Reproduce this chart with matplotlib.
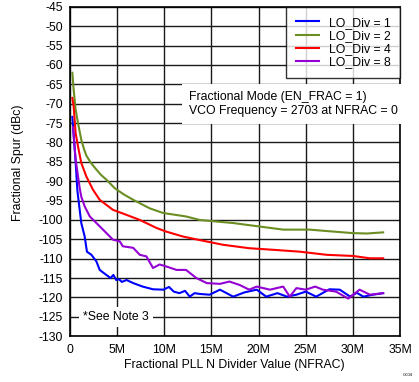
import matplotlib.pyplot as plt
import numpy as np

plt.rcParams['font.family'] = ['Liberation Sans', 'DejaVu Sans']
plt.rcParams['axes.unicode_minus'] = False

# NFRAC in millions, spur in dBc
div1_x = [0.25, 0.45, 0.6, 0.78, 1.03, 1.2, 1.56, 1.8, 2.27, 2.8, 3.15, 3.86, 4.3, 4.6, 4.9, 5.2, 5.5,
          6.0, 6.7, 7.7, 8.8, 9.9, 10.5, 11.0, 11.6, 12.2, 12.7, 13.2, 13.75, 14.8, 15.9, 17.3, 18.5,
          19.8, 20.8, 22.0, 23.0, 24.0, 25.0, 26.1, 27.5, 28.6, 29.7, 30.4, 31.1, 32.1, 33.2]
div1_y = [-73.4, -80, -85, -92.3, -97.4, -100.8, -104.3, -108.2, -109, -110.7, -112.9, -114.2, -115, -114.2, -115.5, -115.3, -116,
          -115.5, -116.3, -117.2, -117.9, -118, -117.3, -118.5, -118.9, -118.3, -119.8, -118.9, -119.1, -119.3, -118, -119.8, -118.7,
          -118, -119.8, -118.9, -119.8, -119.3, -118.5, -119.8, -117.9, -118, -119.8, -118.8, -119.8, -119.3, -118.9]

div2_x = [0.25, 0.39, 0.6, 0.85, 1.2, 1.5, 1.74, 2.2, 2.8, 3.3, 3.86, 4.74, 5.7, 6.7, 8.45, 9.86, 12.3, 13.75,
          15.5, 17.3, 20.1, 22.6, 25.4, 27.9, 30.0, 31.5, 33.2]
div2_y = [-62, -66.4, -71.5, -75, -79.3, -81.8, -83.4, -85.2, -87, -88.4, -89.6, -91.8, -93.4, -94.8, -97, -98.2, -99.1, -100,
          -100.4, -100.8, -101.7, -102.5, -102.5, -103, -103.4, -103.5, -103.2]

div4_x = [0.25, 0.39, 0.6, 0.85, 1.2, 1.74, 2.44, 3.15, 4.56, 6.0, 7.4, 9.2, 10.2, 12.0, 13.75,
          16.2, 19.0, 21.5, 24.4, 27.2, 30.0, 31.8, 33.2]
div4_y = [-68.5, -70.7, -77.6, -81, -85.3, -88.8, -92.2, -94.8, -97.4, -98.7, -100, -102.1, -103, -104.3, -105.2,
          -106.4, -107.3, -107.7, -108.2, -109, -109.3, -109.9, -109.9]

div8_x = [0.32, 0.6, 1.03, 1.2, 1.56, 2.1, 2.8, 3.5, 4.56, 5.27, 5.6, 6.7, 7.4, 8.1, 8.8, 9.5, 10.2,
          11.3, 12.3, 13.4, 14.5, 15.9, 16.9, 18.0, 19.0, 19.8, 21.2, 22.6, 23.3, 24.0, 25.0, 26.0,
          26.8, 28.2, 29.5, 30.7, 31.8, 33.2]
div8_y = [-76, -84.4, -91.8, -94, -96.5, -99.1, -100.8, -102.5, -105.1, -105.5, -106.8, -107.2, -109, -109.4, -112.4, -111.5, -112,
          -112.9, -112.9, -115, -116.3, -116.5, -115.9, -116.8, -118, -117.2, -118, -117.2, -119.8, -117.6, -118, -117.2,
          -118, -118.5, -120.3, -118, -119.3, -118.9]

labels = ['LO_Div = 1', 'LO_Div = 2', 'LO_Div = 4', 'LO_Div = 8']
colors = ['#0000ff', '#6b8e23', '#ff0000', '#9400d3']
x_ticks = [0, 5, 10, 15, 20, 25, 30, 35]
y_ticks = list(range(-130, -44, 5))

fs = 8.8
fig = plt.figure(figsize=(4.19, 3.82), dpi=100)
ax = fig.add_axes([0.167, 0.120, 0.788, 0.862])

series = [(div1_x, div1_y), (div2_x, div2_y), (div4_x, div4_y), (div8_x, div8_y)]
for (xs, ys), lab, c in zip(series, labels, colors):
    ax.plot(xs, ys, color=c, lw=1.5, label=lab, zorder=3)

ax.set_xlim(0, 35)
ax.set_ylim(-130, -45)
ax.set_xticks(x_ticks)
ax.set_xticklabels(['0'] + ['%dM' % t for t in x_ticks[1:]])
ax.set_yticks(y_ticks)
ax.grid(True, color='#1a1a1a', lw=1)
ax.tick_params(length=0, labelsize=fs)
ax.tick_params(axis='x', pad=6)
ax.tick_params(axis='y', pad=5)
for s in ax.spines.values():
    s.set_linewidth(1.2)

ax.set_xlabel('Fractional PLL N Divider Value (NFRAC)', fontsize=fs)
ax.set_ylabel('Fractional Spur (dBc)', fontsize=fs)
ax.xaxis.set_label_coords(0.497, -0.068)
ax.yaxis.set_label_coords(-0.138, 0.526)

leg = ax.legend(loc='upper right', fontsize=fs, frameon=True, fancybox=False,
                edgecolor='black', borderpad=0.8, labelspacing=0.1, handlelength=1.9,
                handletextpad=0.75, borderaxespad=0)
leg.get_frame().set_linewidth(1)
leg.set_zorder(5)

ax.text(0.36, 0.705, 'Fractional Mode (EN_FRAC = 1)\nVCO Frequency = 2703 at NFRAC = 0',
        transform=ax.transAxes, ha='left', va='center', fontsize=fs, linespacing=1.3,
        bbox=dict(facecolor='white', edgecolor='none', pad=5), zorder=4)
ax.text(0.04, 0.04, '*See Note 3', transform=ax.transAxes, ha='left', va='bottom', fontsize=fs,
        bbox=dict(facecolor='white', edgecolor='none', pad=3), zorder=4)

fig.text(0.985, 0.012, 'G004', fontsize=3, ha='right', va='bottom')

plt.savefig('out.png', dpi=100)
